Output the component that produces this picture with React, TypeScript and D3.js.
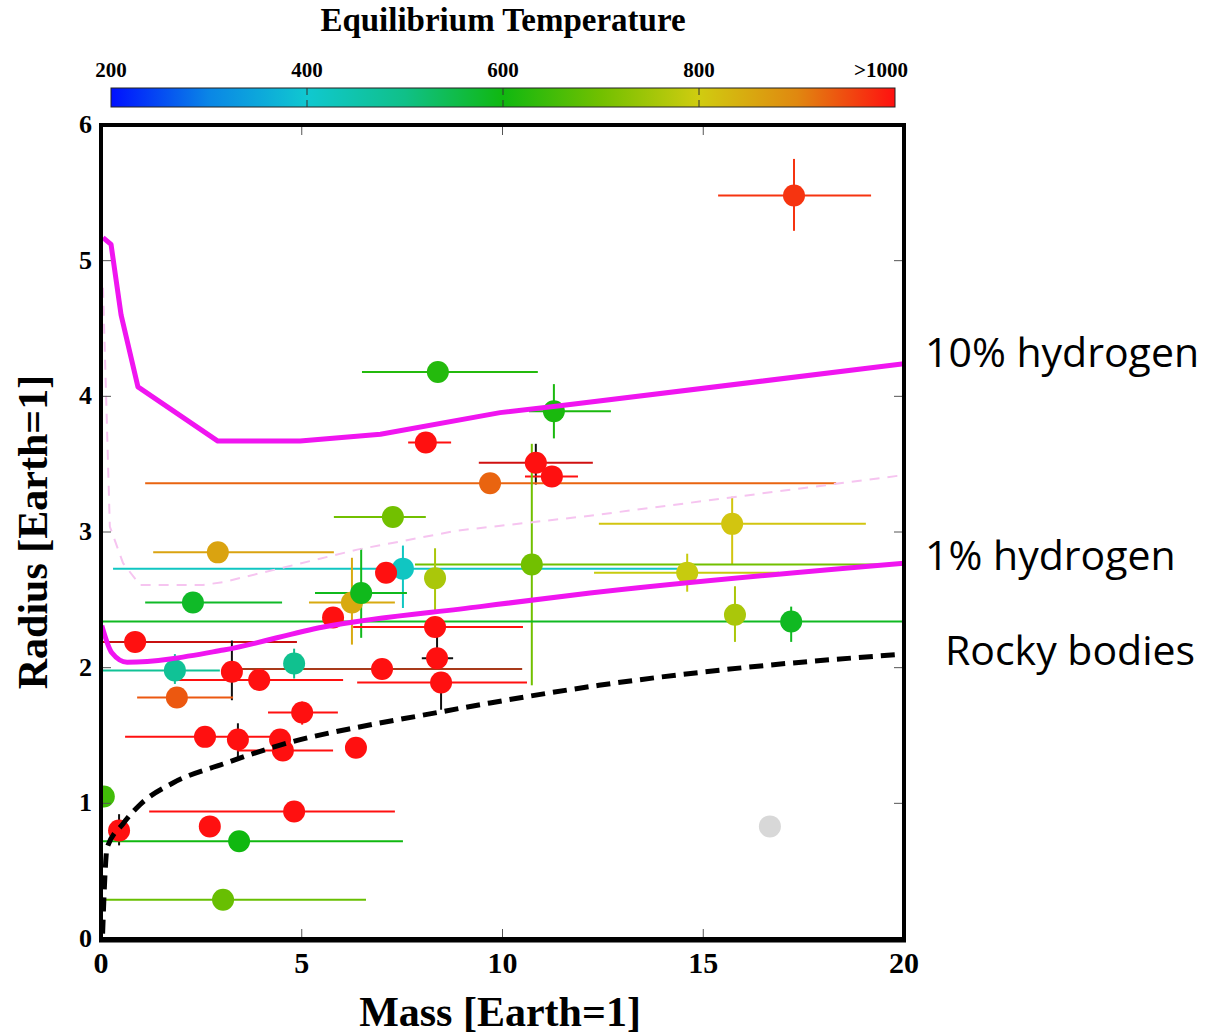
import React from "react";
import * as d3 from "d3";

// ---------- data ----------
// colour bar (equilibrium temperature)
const cbTicks = [200, 400, 600, 800, 1000];
const cbTickLabels = ["200", "400", "600", "800", ">1000"];
const cbStopTemps = [200, 300, 400, 500, 600, 700, 800, 900, 1000];
const cbStopColors = ["#0010ff", "#0a86e6", "#10c8d0", "#10c088", "#10b810", "#72c000", "#d0cc10", "#e08810", "#ff1010"];

const xTicks = [0, 5, 10, 15, 20];
const yTicks = [0, 1, 2, 3, 4, 5, 6];

// planets: mass, radius, temperature (null = unknown), error bounds, error-bar colour overrides
type P = {
  m: number; r: number; t: number | null;
  mlo?: number; mhi?: number; rlo?: number; rhi?: number;
  xc?: string; yc?: string;
};
const planets: P[] = [
  { m: 17.26, r: 5.48, t: 970, mlo: 15.37, mhi: 19.18, rlo: 5.22, rhi: 5.75 },
  { m: 8.39, r: 4.18, t: 620, mlo: 6.5, mhi: 10.88 },
  { m: 11.28, r: 3.89, t: 610, mlo: 10.66, mhi: 12.7, rlo: 3.69, rhi: 4.09 },
  { m: 8.09, r: 3.66, t: 1000, mlo: 7.65, mhi: 8.72 },
  { m: 10.83, r: 3.51, t: 1000, mlo: 9.41, mhi: 12.25, rlo: 3.35, rhi: 3.65, xc: "#d01010", yc: "#111" },
  { m: 11.23, r: 3.41, t: 1000, mlo: 10.56, mhi: 11.88 },
  { m: 9.69, r: 3.36, t: 930, mlo: 1.1, mhi: 18.31 },
  { m: 7.27, r: 3.11, t: 700, mlo: 5.8, mhi: 8.09 },
  { m: 2.91, r: 2.85, t: 860, mlo: 1.3, mhi: 5.8 },
  { m: 15.72, r: 3.06, t: 810, mlo: 12.4, mhi: 19.05, rlo: 2.76, rhi: 3.26 },
  { m: 10.73, r: 2.76, t: 700, mlo: 7.82, mhi: 20, rlo: 1.87, rhi: 3.65 },
  { m: 7.52, r: 2.73, t: 420, mlo: 0.3, mhi: 14.35, rlo: 2.44, rhi: 2.9 },
  { m: 7.1, r: 2.7, t: 1000 },
  { m: 8.32, r: 2.66, t: 760, rlo: 2.42, rhi: 2.88 },
  { m: 14.6, r: 2.7, t: 790, mlo: 12.28, mhi: 16.89, rlo: 2.56, rhi: 2.84 },
  { m: 6.25, r: 2.48, t: 850, mlo: 5.18, mhi: 7.32, rlo: 2.17, rhi: 2.81 },
  { m: 6.48, r: 2.55, t: 590, mlo: 5.33, mhi: 7.62, rlo: 2.22, rhi: 2.88 },
  { m: 2.29, r: 2.48, t: 580, mlo: 1.1, mhi: 4.51 },
  { m: 5.78, r: 2.37, t: 1000 },
  { m: 8.32, r: 2.3, t: 1000, mlo: 6.28, mhi: 10.51 },
  { m: 15.79, r: 2.39, t: 760, rlo: 2.19, rhi: 2.6 },
  { m: 17.19, r: 2.34, t: 585, mlo: 0, mhi: 20, rlo: 2.19, rhi: 2.45 },
  { m: 0.85, r: 2.19, t: 1000, mlo: 0, mhi: 4.88, xc: "#c81010" },
  { m: 1.84, r: 1.98, t: 480, mlo: 0, mhi: 2.96, rlo: 1.88, rhi: 2.1 },
  { m: 7.0, r: 1.99, t: 1000, mlo: 3.39, mhi: 10.49, xc: "#a83a1a", yc: "#111" },
  { m: 3.26, r: 1.97, t: 1000, rlo: 1.76, rhi: 2.2, yc: "#111" },
  { m: 4.81, r: 2.03, t: 490, rlo: 1.92, rhi: 2.14 },
  { m: 3.94, r: 1.91, t: 1000, mlo: 1.89, mhi: 6.03 },
  { m: 8.37, r: 2.07, t: 1000, mlo: 7.99, mhi: 8.77, rlo: 1.99, rhi: 2.28, xc: "#111", yc: "#111" },
  { m: 8.47, r: 1.89, t: 1000, mlo: 6.38, mhi: 10.61, rlo: 1.69, rhi: 1.95, yc: "#111" },
  { m: 1.89, r: 1.78, t: 940, mlo: 0.9, mhi: 3.29 },
  { m: 5.01, r: 1.67, t: 1000, mlo: 4.16, mhi: 5.9, rlo: 1.58, rhi: 1.75 },
  { m: 2.59, r: 1.49, t: 1000, mlo: 0.6, mhi: 4.71 },
  { m: 3.41, r: 1.47, t: 1000, rlo: 1.34, rhi: 1.59, yc: "#111" },
  { m: 4.46, r: 1.47, t: 1000 },
  { m: 4.53, r: 1.39, t: 1000, mlo: 3.39, mhi: 5.78 },
  { m: 6.35, r: 1.41, t: 1000 },
  { m: 0.07, r: 1.05, t: 650 },
  { m: 0.45, r: 0.8, t: 1000, rlo: 0.69, rhi: 0.92, yc: "#111" },
  { m: 2.71, r: 0.83, t: 1000 },
  { m: 4.81, r: 0.94, t: 1000, mlo: 1.2, mhi: 7.32 },
  { m: 3.44, r: 0.72, t: 600, mlo: 0, mhi: 7.52 },
  { m: 3.04, r: 0.29, t: 690, mlo: 0, mhi: 6.6 },
  { m: 16.66, r: 0.83, t: null },
];

// model curves [mass, radius]
const hydrogen10: [number, number][] = [
  [0.05, 5.17], [0.25, 5.12], [0.5, 4.6], [0.92, 4.07], [2.91, 3.67], [4.96, 3.67],
  [6.96, 3.72], [9.94, 3.88], [11.43, 3.93], [20, 4.24],
];
const hydrogen1: [number, number][] = [
  [0.02, 2.31], [0.27, 2.11], [0.65, 2.04], [3.05, 2.13], [5.54, 2.3], [9.44, 2.45],
  [12.18, 2.55], [20, 2.77],
];
const pinkDashed: [number, number][] = [
  [0.05, 4.8], [0.22, 3.04], [0.55, 2.77], [0.97, 2.61], [2.54, 2.61], [3.04, 2.63],
  [6.38, 2.87], [8.87, 3.01], [12.18, 3.12], [20, 3.42],
];
const rocky: [number, number][] = [
  [0.04, 0.04], [0.1, 0.48], [0.15, 0.67], [0.55, 0.85], [0.97, 0.99], [1.79, 1.15],
  [3.04, 1.29], [4.71, 1.45], [6.38, 1.56], [8.02, 1.65], [9.69, 1.74], [12.4, 1.87],
  [16, 2.0], [20, 2.1],
];

const curveLabels = [
  { text: "10% hydrogen", x: 925, y: 367 },
  { text: "1% hydrogen", x: 925, y: 570 },
  { text: "Rocky bodies", x: 945, y: 665 },
];

// ---------- chart ----------
const W = 1208, H = 1034;
const serif = "'Liberation Serif', 'DejaVu Serif', serif";
const sans = "'Open Sans', 'Noto Sans', sans-serif";

export default function App() {
  const x = d3.scaleLinear().domain([0, 20]).range([101, 904]);
  const y = d3.scaleLinear().domain([0, 6]).range([939, 125]);
  const color = d3.scaleLinear<string>().domain(cbStopTemps).range(cbStopColors).clamp(true);
  const cbX = d3.scaleLinear().domain([200, 1000]).range([111, 895]);

  const line = d3.line<[number, number]>().x((d) => x(d[0])).y((d) => y(d[1]));
  const lineSmooth = d3.line<[number, number]>().x((d) => x(d[0])).y((d) => y(d[1])).curve(d3.curveMonotoneX);

  const fillOf = (p: P) => (p.t === null ? "#d8d8d8" : color(p.t));

  return (
    <svg width={W} height={H} style={{ position: "absolute", left: 0, top: 0, background: "#fff" }}>
      <defs>
        <linearGradient id="cb" x1="0" x2="1" y1="0" y2="0">
          {cbStopTemps.map((t, i) => (
            <stop key={i} offset={(t - 200) / 800} stopColor={cbStopColors[i]} />
          ))}
        </linearGradient>
        <clipPath id="plot">
          <rect x={101} y={125} width={803} height={814} />
        </clipPath>
      </defs>

      {/* colour bar */}
      <text x={503} y={31} textAnchor="middle" fontFamily={serif} fontWeight="bold" fontSize={33}>
        Equilibrium Temperature
      </text>
      <rect x={cbX(200)} y={88} width={cbX(1000) - cbX(200)} height={19} fill="url(#cb)" stroke="#222" strokeWidth={1} />
      {cbTicks.slice(1, -1).map((t) => (
        <g key={t}>
          <line x1={cbX(t)} x2={cbX(t)} y1={88} y2={95} stroke="#333" strokeWidth={1} />
          <line x1={cbX(t)} x2={cbX(t)} y1={100} y2={107} stroke="#333" strokeWidth={1} />
        </g>
      ))}
      {cbTicks.map((t, i) => (
        <text
          key={t}
          x={i === cbTicks.length - 1 ? 908 : cbX(t)}
          y={77}
          textAnchor={i === cbTicks.length - 1 ? "end" : "middle"}
          fontFamily={serif}
          fontWeight="bold"
          fontSize={21}
        >
          {cbTickLabels[i]}
        </text>
      ))}

      {/* plot content */}
      <g clipPath="url(#plot)">
        {planets.map((p, i) => {
          const c = fillOf(p);
          return (
            <g key={"e" + i} strokeWidth={2}>
              {p.mlo !== undefined && p.mhi !== undefined && (
                <line x1={x(p.mlo)} x2={x(p.mhi)} y1={y(p.r)} y2={y(p.r)} stroke={p.xc ?? c} />
              )}
              {p.rlo !== undefined && p.rhi !== undefined && (
                <line x1={x(p.m)} x2={x(p.m)} y1={y(p.rlo)} y2={y(p.rhi)} stroke={p.yc ?? c} />
              )}
            </g>
          );
        })}
        {planets.map((p, i) => (
          <circle key={"c" + i} cx={x(p.m)} cy={y(p.r)} r={11} fill={fillOf(p)} />
        ))}

        <path d={line(pinkDashed) ?? ""} fill="none" stroke="#f6c4f0" strokeWidth={2} strokeDasharray="10,8" />
        <path d={line(hydrogen10) ?? ""} fill="none" stroke="#f015f0" strokeWidth={5} strokeLinejoin="round" />
        <path d={lineSmooth(hydrogen1) ?? ""} fill="none" stroke="#f015f0" strokeWidth={5} strokeLinejoin="round" />
        <path d={lineSmooth(rocky) ?? ""} fill="none" stroke="#000" strokeWidth={5} strokeDasharray="14,8" />
      </g>

      {/* ticks */}
      {xTicks.slice(1, -1).map((t) => (
        <g key={"xt" + t} stroke="#555" strokeWidth={1}>
          <line x1={x(t)} x2={x(t)} y1={939} y2={929} />
          <line x1={x(t)} x2={x(t)} y1={125} y2={135} />
        </g>
      ))}
      {yTicks.slice(1, -1).map((t) => (
        <g key={"yt" + t} stroke="#555" strokeWidth={1}>
          <line x1={101} x2={111} y1={y(t)} y2={y(t)} />
          <line x1={904} x2={894} y1={y(t)} y2={y(t)} />
        </g>
      ))}

      {/* frame */}
      <rect x={101} y={125} width={803} height={814} fill="none" stroke="#000" strokeWidth={4} />
      <line x1={99} x2={906} y1={940} y2={940} stroke="#000" strokeWidth={5} />

      {/* tick labels */}
      {xTicks.map((t) => (
        <text key={"xl" + t} x={x(t)} y={973} textAnchor="middle" fontFamily={serif} fontWeight="bold" fontSize={30}>
          {t}
        </text>
      ))}
      {yTicks.map((t) => (
        <text key={"yl" + t} x={92} y={y(t) + 8} textAnchor="end" fontFamily={serif} fontWeight="bold" fontSize={26}>
          {t}
        </text>
      ))}

      {/* axis titles */}
      <text x={500} y={1026} textAnchor="middle" fontFamily={serif} fontWeight="bold" fontSize={42}>
        Mass [Earth=1]
      </text>
      <text
        transform="translate(47,532) rotate(-90)"
        textAnchor="middle"
        fontFamily={serif}
        fontWeight="bold"
        fontSize={42}
      >
        Radius [Earth=1]
      </text>

      {/* curve labels */}
      {curveLabels.map((l) => (
        <text key={l.text} x={l.x} y={l.y} fontFamily={sans} fontSize={41} fill="#000">
          {l.text}
        </text>
      ))}
    </svg>
  );
}
